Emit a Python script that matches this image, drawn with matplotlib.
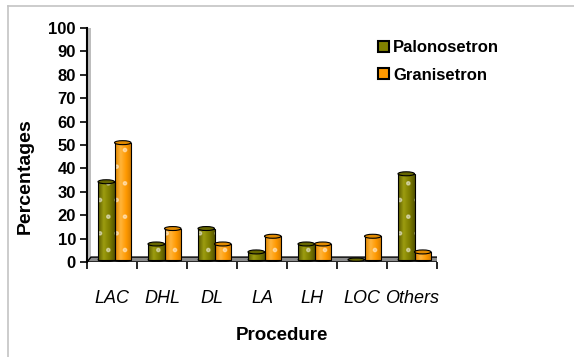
import numpy as np
import matplotlib.pyplot as plt
from matplotlib.patches import Polygon, Ellipse, Patch
from matplotlib.lines import Line2D
from matplotlib.colors import LinearSegmentedColormap

plt.rcParams['font.family'] = ['Liberation Sans', 'DejaVu Sans']

procedures = ["LAC", "DHL", "DL", "LA", "LH", "LOC", "Others"]
palonosetron = [33.3, 6.7, 13.3, 3.3, 6.7, 0.0, 36.7]
granisetron = [50.0, 13.3, 6.7, 10.0, 6.7, 10.0, 3.3]

olive = "#808000"
orange = "#ff9900"
olive_cm = LinearSegmentedColormap.from_list("ol", ["#5a5a00", "#9c9c10", "#808000", "#545400"])
orange_cm = LinearSegmentedColormap.from_list("or", ["#e08600", "#ffb43a", "#ff9900", "#d07a00"])

fig = plt.figure(figsize=(5.74, 3.57), dpi=100)
ax = fig.add_axes([87 / 574, 1 - 262 / 357, 350 / 574, 234 / 357])

# pseudo 3d depth
dx, dy = 0.08, 2.1
base = 1.0
width = 0.33
x = np.arange(len(procedures)) + 0.5 + 0.05

# back wall edge and floor
ax.add_patch(Polygon([(0, 0), (dx, dy), (dx, 100.8), (0, 100)], closed=True,
                     facecolor="#bdbdbd", edgecolor="none", zorder=1))
ax.add_patch(Polygon([(0, 0), (7, 0), (7 + dx * 1.5, dy), (dx, dy)], closed=True,
                     facecolor="#8c8c8c", edgecolor="black", lw=1.0, zorder=1))

grad = np.linspace(0, 1, 64).reshape(1, -1)

def cylinder(xc, h, cmap, cap):
    if h <= 0:
        ax.add_patch(Ellipse((xc, base), width, 1.4, facecolor=cap,
                             edgecolor="black", lw=0.8, zorder=3))
        return
    bars = ax.bar(xc, h, width=width, bottom=base, color="none",
                  edgecolor="black", lw=0.8, zorder=3)
    rect = bars[0]
    im = ax.imshow(grad, cmap=cmap, aspect="auto", zorder=2,
                   extent=(xc - width / 2, xc + width / 2, base, base + h))
    im.set_clip_path(rect)
    ax.bar(xc, h, width=width, bottom=base, fill=False, hatch=".",
           edgecolor=(1, 1, 1, 0.45), lw=0, zorder=2.5)
    ax.add_patch(Ellipse((xc, base + h), width, 1.7, facecolor=cap,
                         edgecolor="black", lw=0.8, zorder=4))
    ax.add_patch(Ellipse((xc, base), width, 1.7, facecolor="none",
                         edgecolor="black", lw=0.6, zorder=1.5))

for xc, p, g in zip(x, palonosetron, granisetron):
    cylinder(xc - width / 2, p, olive_cm, "#666600")
    cylinder(xc + width / 2, g, orange_cm, "#e08a00")

ax.set_xlim(0, 7)
ax.set_ylim(0, 100)
ax.set_yticks(np.arange(0, 101, 10))
ax.set_yticklabels([str(v) for v in range(0, 101, 10)], fontweight="bold", fontsize=12)
ax.set_xticks(np.arange(0, 8))
ax.set_xticklabels([])
ax.set_xticks(np.arange(len(procedures)) + 0.5, minor=True)
ax.set_xticklabels(procedures, minor=True, fontstyle="italic", fontsize=13)
ax.tick_params(axis="x", which="minor", length=0, pad=20)
ax.tick_params(axis="x", which="major", length=5, width=1.2, direction="out")
ax.tick_params(axis="y", length=5, width=1.2, pad=3)

for s in ["top", "right", "bottom"]:
    ax.spines[s].set_visible(False)
ax.spines["left"].set_linewidth(1.5)
ax.patch.set_visible(False)

fig.text(282 / 574, 1 - 335 / 357, "Procedure", fontweight="bold", fontsize=13.5,
         ha="center", va="center")
fig.text(25 / 574, 1 - 176 / 357, "Percentages", fontweight="bold", fontsize=14,
         ha="center", va="center", rotation=90)

handles = [Patch(facecolor=olive, edgecolor="black", lw=1.5),
           Patch(facecolor=orange, edgecolor="black", lw=1.5)]
fig.legend(handles, ["Palonosetron", "Granisetron"], loc="upper left",
           bbox_to_anchor=(378 / 574, 1 - 40 / 357), frameon=False,
           prop={"weight": "bold", "size": 12}, handlelength=0.65, handleheight=0.65,
           handletextpad=0.25, labelspacing=0.75, borderpad=0, borderaxespad=0)

# outer frame lines
fig.add_artist(Line2D([8 / 574, 8 / 574], [0, 1 - 6 / 357], color="#c4c4c4", lw=1.2))
fig.add_artist(Line2D([8 / 574, 1], [1 - 6 / 357, 1 - 6 / 357], color="#c4c4c4", lw=1.2))

fig.savefig("out.png", dpi=100)
